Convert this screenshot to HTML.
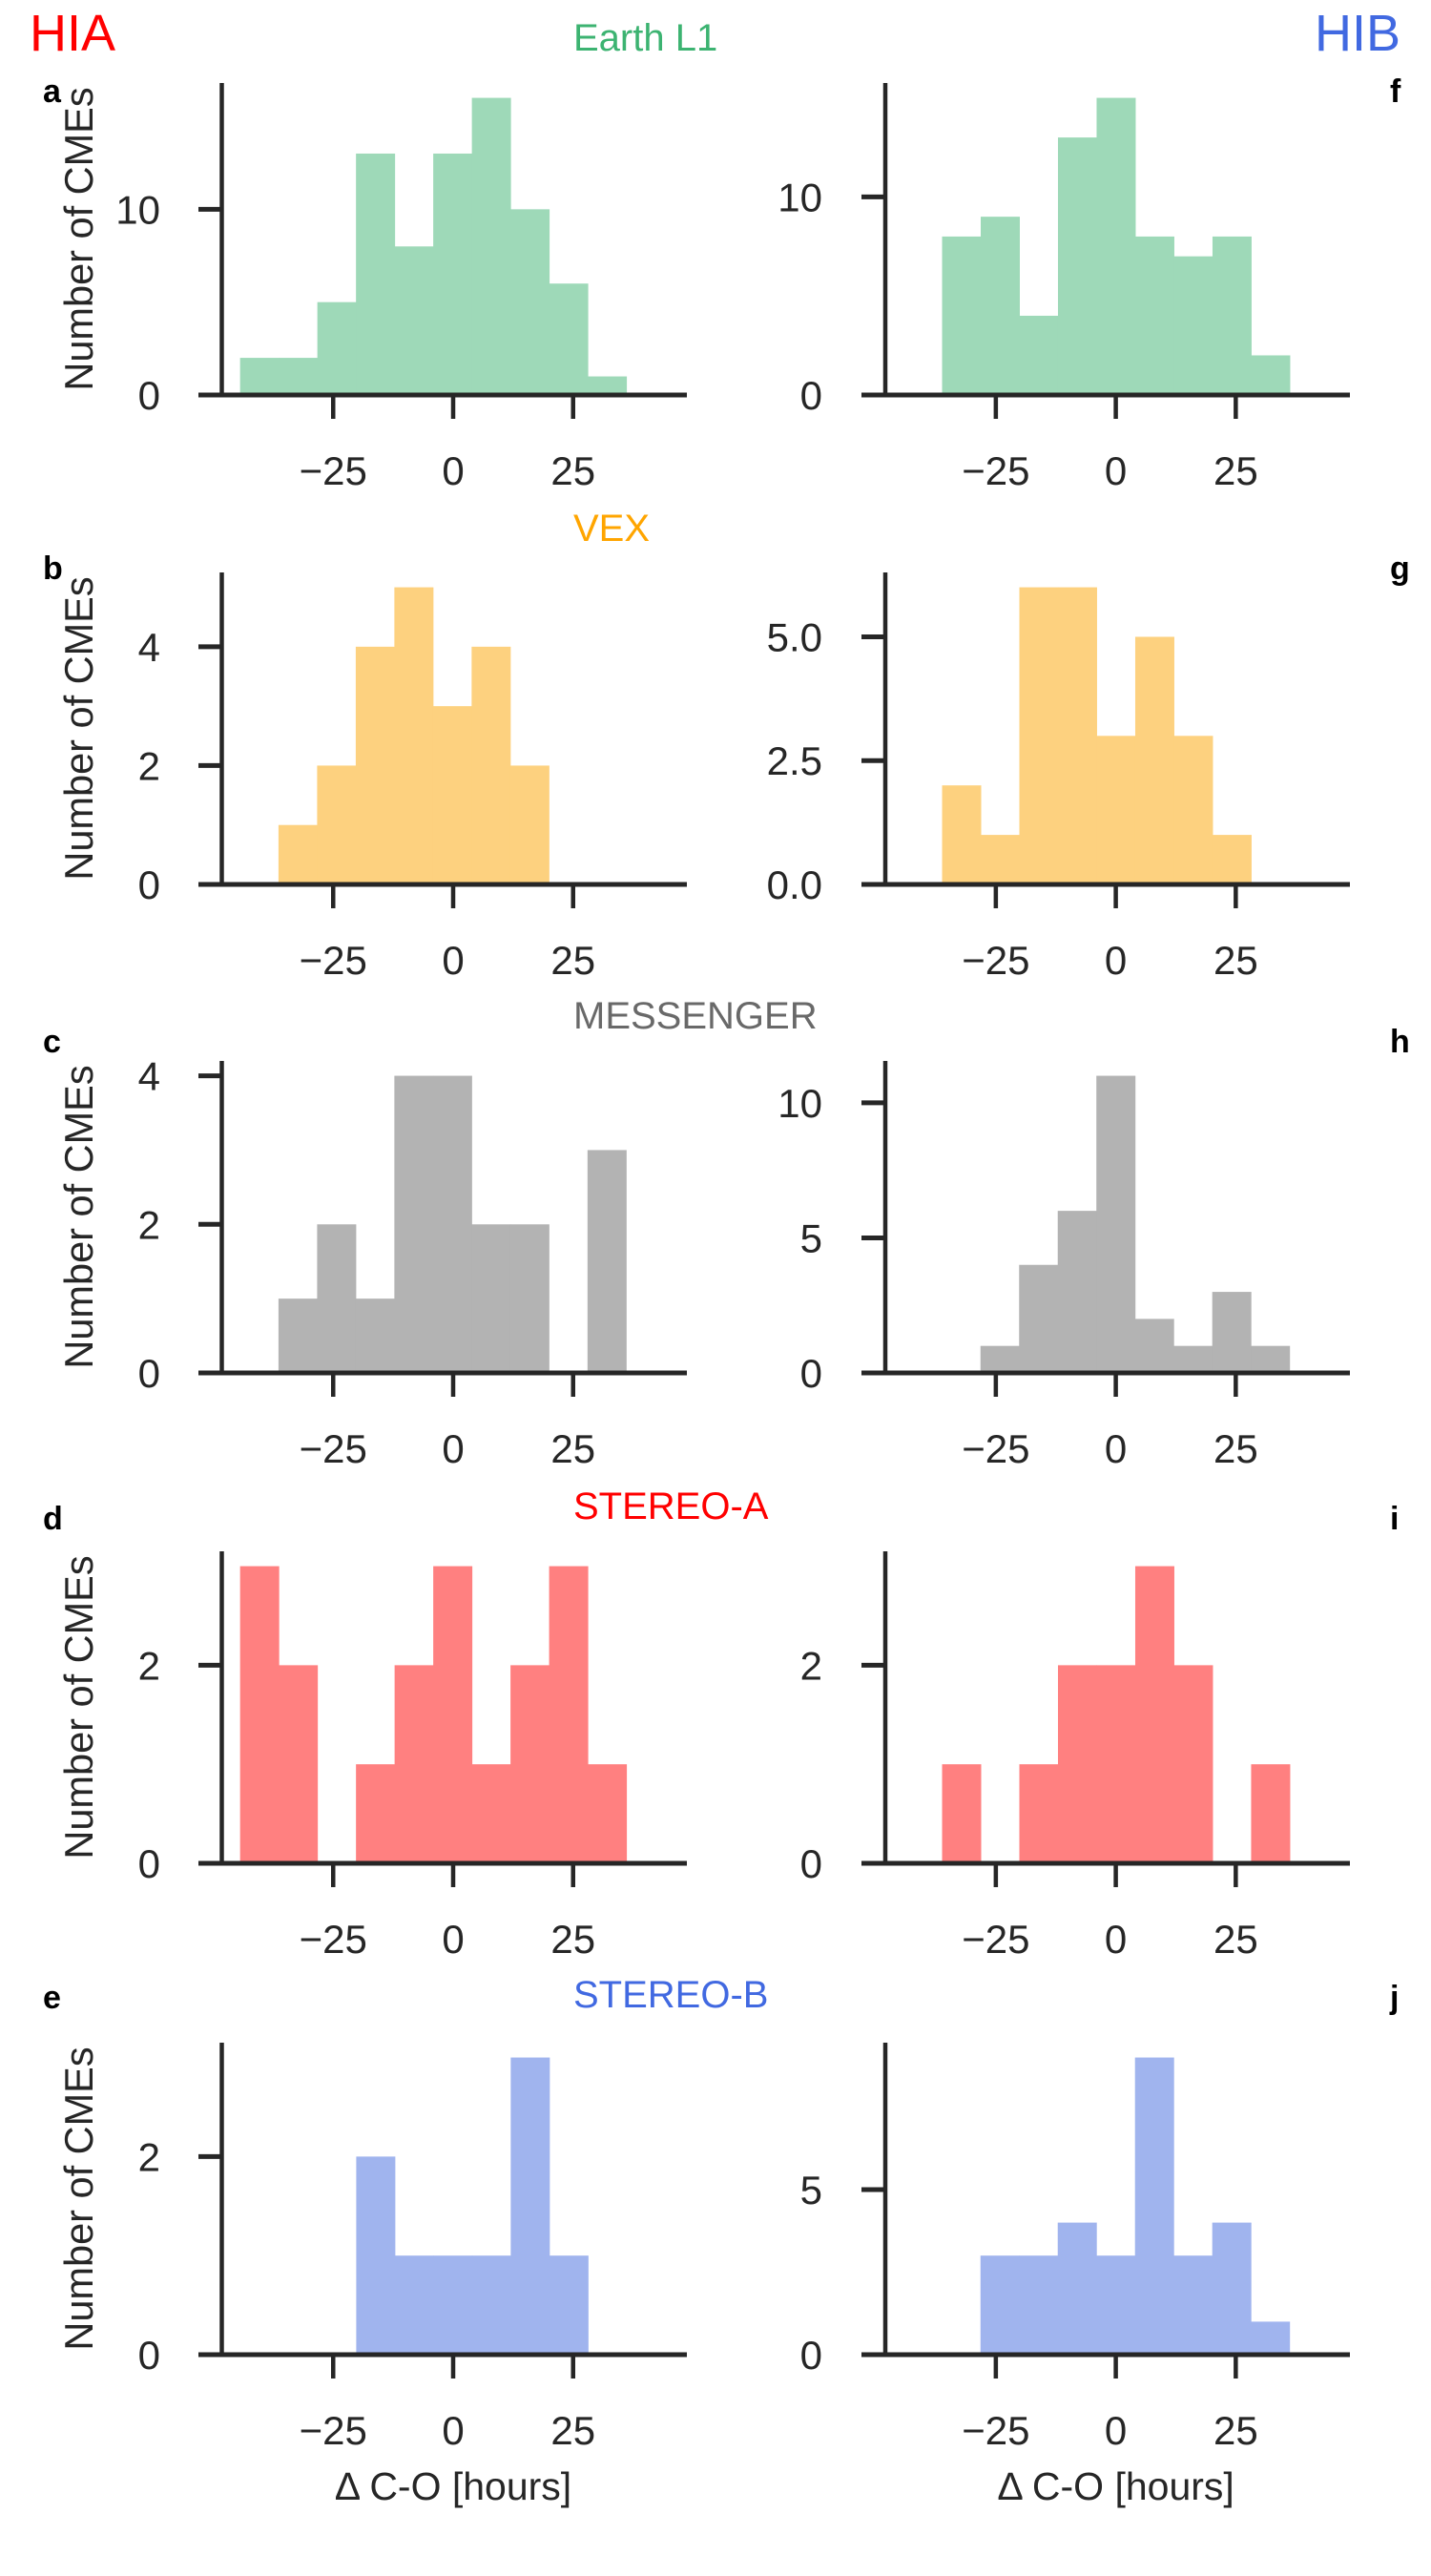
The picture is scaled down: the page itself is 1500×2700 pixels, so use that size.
<!DOCTYPE html>
<html><head><meta charset="utf-8">
<style>
html,body{margin:0;padding:0;background:#fff;}
svg{display:block;font-family:"Liberation Sans",sans-serif;}
</style></head>
<body>
<svg id="fig" width="1500" height="2700" viewBox="0 0 1500 2700" xmlns="http://www.w3.org/2000/svg">
<text x="31" y="53" font-size="54" fill="#ff0000">HIA</text>
<text x="1468" y="53" font-size="54" fill="#4169e1" text-anchor="end">HIB</text>
</svg>
<script>
// ---- data ----
const rowTitles = ["Earth L1","VEX","MESSENGER","STEREO-A","STEREO-B"];
const hiaLetters = ["a","b","c","d","e"];
const hibLetters = ["f","g","h","i","j"];
const binWidth = 8.05;
// HIA counts (left column)
const countsA = [2,2,5,13,8,13,16,10,6,1];
const countsB = [1,2,4,5,3,4,2];
const countsC = [1,2,1,4,4,2,2,0,3];
const countsD = [3,2,0,1,2,3,1,2,3,1];
const countsE = [2,1,1,1,3,1];
// HIB counts (right column)
const countsF = [8,9,4,13,15,8,7,8,2];
const countsG = [2,1,6,6,3,5,3,1];
const countsH = [1,4,6,11,2,1,3,1];
const countsI = [1,0,1,2,2,3,2,0,1];
const countsJ = [3,3,4,3,9,3,4,1];
// first bin left edge (hours)
const startsHIA = [-44.4,-36.4,-36.4,-44.4,-20.2];
const startsHIB = [-36.2,-36.2,-28.2,-36.2,-28.2];
const xTicks = [-25,0,25];
const xTickLabels = ["\u221225","0","25"];
const yTicksHIA = [[0,10],[0,2,4],[0,2,4],[0,2],[0,2]];
const yTicksHIB = [[0,10],[0,2.5,5],[0,5,10],[0,2],[0,5]];
const yTickLabelsHIB = [["0","10"],["0.0","2.5","5.0"],["0","5","10"],["0","2"],["0","5"]];
const countsHIA = [countsA,countsB,countsC,countsD,countsE];
const countsHIB = [countsF,countsG,countsH,countsI,countsJ];

// ---- styles/layout ----
const titleColors = ["#3cb371","#ffa500","#696969","#ff0000","#4169e1"];
const barColors = ["#9ed9b8","#fdd17f","#b3b3b3","#ff8080","#a0b4ee"];
const baseY = [414,927,1439,1953,2468];
const titleY = [53,567,1078,1592,2104];
const letterY = [107,607,1103,1603,2105];
const axH = 327;
const axisCol = "#262626";
const svg = document.getElementById('fig');
const NS = "http://www.w3.org/2000/svg";
function el(tag, attrs, parent){
  const e = document.createElementNS(NS, tag);
  for (const k in attrs) e.setAttribute(k, attrs[k]);
  (parent||svg).appendChild(e);
  return e;
}

function panel(col, r, counts, start, ticks, labels){
  const zeroX = col===0 ? 475 : 1169.6;
  const pxPerH = 5.03;
  const xs = v => zeroX + v*pxPerH;
  const spineX = col===0 ? 232.5 : 928;
  const axLeft = col===0 ? 208 : 903;
  const axRight = col===0 ? 720 : 1415;
  const y0 = baseY[r];
  const ymax = Math.max(...counts)*1.05;
  const ys = v => y0 - v/ymax*axH;
  const g = el('g', {});
  
  
  counts.forEach((c,i)=>{
    if (c<=0) return;
    const x1 = xs(start + i*binWidth), x2 = xs(start + (i+1)*binWidth);
    const b = el('rect', {x:x1, y:ys(c), width:x2-x1+0.5, height:y0-ys(c), fill:barColors[r]}, g);
    
    
  });
  // spines
  const sp = el('line', {x1:spineX, x2:spineX, y1:ys(ymax), y2:y0, stroke:axisCol, 'stroke-width':4.5}, g);
  
  
  const xa = el('line', {x1:axLeft, x2:axRight, y1:y0, y2:y0, stroke:axisCol, 'stroke-width':5}, g);
  
  
  // x ticks
  xTicks.forEach((t,i)=>{
    const tk = el('line', {x1:xs(t), x2:xs(t), y1:y0, y2:y0+25, stroke:axisCol, 'stroke-width':4.5}, g);
    
    
    const tl = el('text', {x:xs(t), y:y0+94, 'font-size':42, fill:axisCol, 'text-anchor':'middle'}, g);
    tl.textContent = xTickLabels[i];
    
    
  });
  // y ticks
  ticks.forEach((t,i)=>{
    const tk = el('line', {x1:axLeft, x2:spineX, y1:ys(t), y2:ys(t), stroke:axisCol, 'stroke-width':5}, g);
    
    
    const tl = el('text', {x:(col===0?168:862), y:ys(t)+15, 'font-size':42, fill:axisCol, 'text-anchor':'end'}, g);
    tl.textContent = labels[i];
    
    
  });
  if (col===0){
    const cy = y0 - axH/2;
    const yl = el('text', {x:0, y:0, 'font-size':41.5, fill:axisCol, 'text-anchor':'middle', transform:`translate(97,${cy}) rotate(-90)`}, g);
    yl.textContent = "Number of CMEs";
    
    
  }
  if (r===4){
    const xl = el('text', {x:zeroX, y:2620, 'font-size':41, fill:axisCol, 'text-anchor':'middle'}, g);
    xl.textContent = "\u0394  C-O [hours]";
    
    
  }
}

for (let r=0;r<5;r++){
  const t = el('text', {x:601, y:titleY[r], 'font-size':40, fill:titleColors[r]});
  t.textContent = rowTitles[r];
  
  
  const la = el('text', {x:45, y:letterY[r], 'font-size':34, 'font-weight':'bold', fill:'#000'});
  la.textContent = hiaLetters[r];
  
  
  const lb = el('text', {x:1457, y:letterY[r], 'font-size':34, 'font-weight':'bold', fill:'#000'});
  lb.textContent = hibLetters[r];
  
  
  panel(0, r, countsHIA[r], startsHIA[r], yTicksHIA[r], yTicksHIA[r].map(String));
  panel(1, r, countsHIB[r], startsHIB[r], yTicksHIB[r], yTickLabelsHIB[r]);
}
</script>
</body></html>
